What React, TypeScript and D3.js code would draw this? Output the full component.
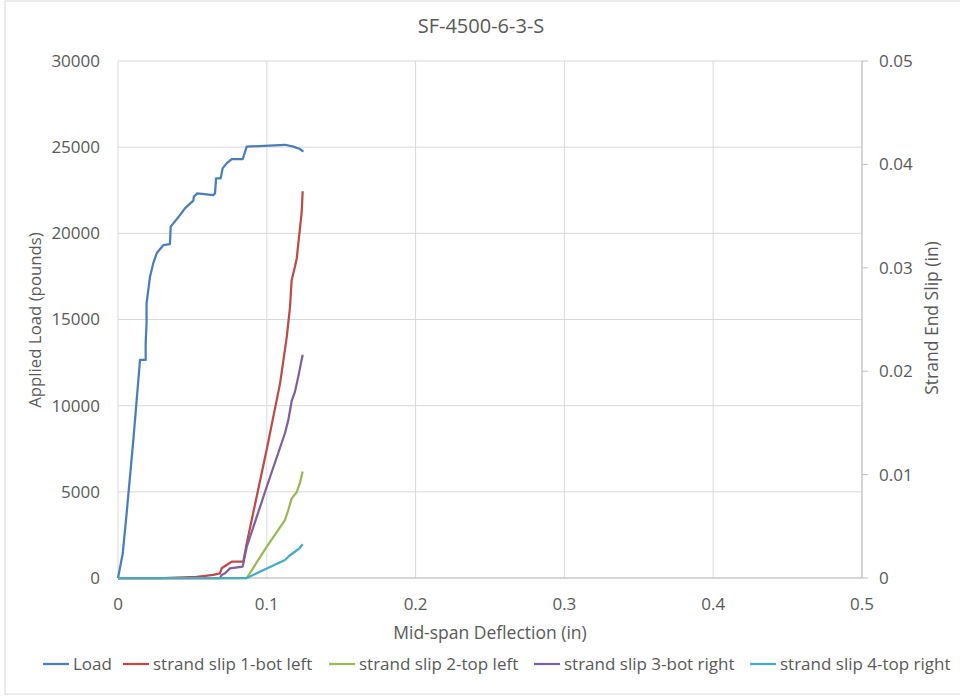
import React from "react";
import * as d3 from "d3";

const title = "SF-4500-6-3-S";
const xTicks = [0, 0.1, 0.2, 0.3, 0.4, 0.5];
const yLeftTicks = [0, 5000, 10000, 15000, 20000, 25000, 30000];
const yRightTicks = [0, 0.01, 0.02, 0.03, 0.04, 0.05];

// [deflection (in), load (lb)]
const loadData: [number, number][] = [
  [0, 0], [0.0032, 1430], [0.0058, 3750], [0.0103, 8000], [0.0148, 12650],
  [0.0186, 12650], [0.0186, 13640], [0.0192, 14780], [0.0192, 15940],
  [0.0215, 17480], [0.0237, 18260], [0.026, 18840], [0.0305, 19320],
  [0.0349, 19380], [0.0354, 20390], [0.0372, 20580], [0.0405, 20930],
  [0.045, 21450], [0.0473, 21640], [0.0506, 21900], [0.051, 22130],
  [0.0533, 22320], [0.064, 22220], [0.0652, 22320], [0.0659, 23190],
  [0.069, 23190], [0.0703, 23770], [0.073, 24060], [0.0764, 24300],
  [0.0838, 24300], [0.0865, 25030], [0.1122, 25140], [0.1178, 25030],
  [0.1219, 24910], [0.1246, 24740],
];

// [deflection (in), slip (in)]
const slip1Data: [number, number][] = [
  [0, 0], [0.03, 0], [0.0529, 0.0001], [0.064, 0.0003], [0.0685, 0.00045],
  [0.0697, 0.00094], [0.073, 0.00126], [0.0764, 0.00158], [0.0842, 0.00158],
  [0.0865, 0.00335], [0.0999, 0.0124], [0.1089, 0.0188], [0.1134, 0.0233],
  [0.1156, 0.0262], [0.1167, 0.0288], [0.1189, 0.0301], [0.1201, 0.0309],
  [0.1219, 0.0333], [0.1234, 0.0353], [0.1241, 0.0374],
];
const slip2Data: [number, number][] = [
  [0, 0], [0.04, 0], [0.0865, 0], [0.0999, 0.003], [0.1122, 0.0056],
  [0.1145, 0.0066], [0.1167, 0.0077], [0.1201, 0.0083], [0.1223, 0.0092],
  [0.1241, 0.0103],
];
const slip3Data: [number, number][] = [
  [0, 0], [0.04, 0], [0.0685, 0], [0.0697, 0.0003], [0.0719, 0.00045],
  [0.0753, 0.00094], [0.0838, 0.0011], [0.0865, 0.003], [0.0999, 0.0088],
  [0.1122, 0.014], [0.1145, 0.0153], [0.1167, 0.0171], [0.1189, 0.018],
  [0.1212, 0.0195], [0.1241, 0.0216],
];
const slip4Data: [number, number][] = [
  [0, 0], [0.04, 0], [0.0865, 0], [0.1122, 0.00174], [0.1156, 0.0022],
  [0.1189, 0.00254], [0.1219, 0.00287], [0.1241, 0.00326],
];

const seriesNames = [
  "Load",
  "strand slip 1-bot left",
  "strand slip 2-top left",
  "strand slip 3-bot right",
  "strand slip 4-top right",
];
const seriesColors = ["#4a7ebb", "#be4b48", "#98b954", "#7d60a0", "#46aac5"];

const FONT = "'Open Sans', 'Noto Sans', sans-serif";
const TXT = "#595959";

export default function App() {
  const W = 960, H = 696;
  const left = 118, right = 862, top = 61, bottom = 578;
  const x = d3.scaleLinear().domain([0, 0.5]).range([left, right]);
  const yL = d3.scaleLinear().domain([0, 30000]).range([bottom, top]);
  const yR = d3.scaleLinear().domain([0, 0.05]).range([bottom, top]);

  const lineL = d3.line<[number, number]>().x(d => x(d[0])).y(d => yL(d[1]));
  const lineR = d3.line<[number, number]>().x(d => x(d[0])).y(d => yR(d[1]));

  const slips = [slip1Data, slip2Data, slip3Data, slip4Data];

  const legendX = [43, 123, 329, 534, 750];

  return (
    <svg width={W} height={H} style={{ position: "absolute", left: 0, top: 0 }}>
      <rect x={0} y={0} width={W} height={H} fill="#fff" />
      <rect x={5} y={1} width={980} height={693} fill="#fff" stroke="#d9d9d9" strokeWidth={1} />
      {/* gridlines */}
      {yLeftTicks.map(t => (
        <line key={"h" + t} x1={left} x2={right} y1={yL(t)} y2={yL(t)} stroke="#d9d9d9" strokeWidth={1} />
      ))}
      {xTicks.map(t => (
        <line key={"v" + t} x1={x(t)} x2={x(t)} y1={top} y2={bottom} stroke="#d9d9d9" strokeWidth={1} />
      ))}
      {/* axes */}
      <line x1={left} x2={right} y1={bottom} y2={bottom} stroke="#bfbfbf" />
      <line x1={right} x2={right} y1={top} y2={bottom} stroke="#bfbfbf" />
      {yRightTicks.map(t => (
        <line key={"rt" + t} x1={right} x2={right + 6} y1={yR(t)} y2={yR(t)} stroke="#bfbfbf" />
      ))}
      {/* series */}
      <path d={lineL(loadData) || ""} fill="none" stroke={seriesColors[0]} strokeWidth={2.25} strokeLinejoin="round" />
      {slips.map((s, i) => (
        <path key={i} d={lineR(s) || ""} fill="none" stroke={seriesColors[i + 1]} strokeWidth={2.25} strokeLinejoin="round" />
      ))}
      {/* tick labels */}
      <g fontFamily={FONT} fontSize={17} fill={TXT}>
        {yLeftTicks.map(t => (
          <text key={"lt" + t} x={100} y={yL(t)} dy="0.35em" textAnchor="end">{t}</text>
        ))}
        {yRightTicks.map(t => (
          <text key={"rl" + t} x={879} y={yR(t)} dy="0.35em" textAnchor="start">{t === 0 ? "0" : t.toFixed(2)}</text>
        ))}
        {xTicks.map(t => (
          <text key={"xl" + t} x={x(t)} y={604} dy="0.35em" textAnchor="middle">{t === 0 ? "0" : String(t)}</text>
        ))}
      </g>
      {/* titles */}
      <text x={481} y={26} dy="0.35em" textAnchor="middle" fontFamily={FONT} fontSize={20} fill={TXT}>{title}</text>
      <text x={490} y={633} dy="0.35em" textAnchor="middle" fontFamily={FONT} fontSize={17.5} fill={TXT}>Mid-span Deflection (in)</text>
      <text transform="translate(35,320) rotate(-90)" dy="0.35em" textAnchor="middle" fontFamily={FONT} fontSize={16.8} fill={TXT}>Applied Load (pounds)</text>
      <text transform="translate(932,318) rotate(-90)" dy="0.35em" textAnchor="middle" fontFamily={FONT} fontSize={17.5} fill={TXT}>Strand End Slip (in)</text>
      {/* legend */}
      <g fontFamily={FONT} fontSize={17} fill={TXT}>
        {seriesNames.map((n, i) => (
          <g key={n}>
            <line x1={legendX[i]} x2={legendX[i] + 26} y1={664} y2={664} stroke={seriesColors[i]} strokeWidth={2.25} />
            <text x={legendX[i] + 30} y={664} dy="0.35em">{n}</text>
          </g>
        ))}
      </g>
    </svg>
  );
}
